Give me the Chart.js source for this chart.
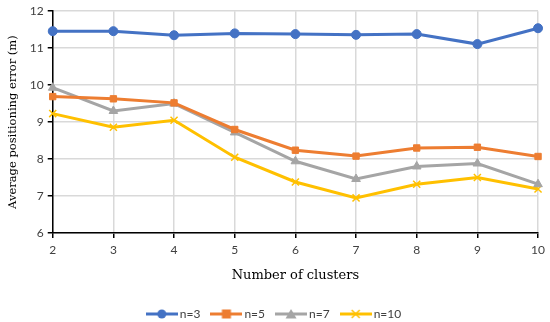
<!DOCTYPE html>
<html>
<head>
<meta charset="utf-8">
<script src="https://cdn.jsdelivr.net/npm/chart.js@4"></script>
<style>
  html, body { margin: 0; padding: 0; background: #fff; }
  #wrap { width: 550px; height: 322px; }
</style>
</head>
<body>
<div id="wrap"><canvas id="chart" width="550" height="322"></canvas></div>
<script>
const clusters = ["2", "3", "4", "5", "6", "7", "8", "9", "10"];
const n3 = [11.46, 11.46, 11.35, 11.40, 11.38, 11.36, 11.38, 11.11, 11.54];
const n5 = [9.69, 9.63, 9.52, 8.80, 8.24, 8.08, 8.30, 8.32, 8.07];
const n7 = [9.93, 9.30, 9.50, 8.72, 7.94, 7.46, 7.80, 7.88, 7.32];
const n10 = [9.23, 8.86, 9.05, 8.05, 7.38, 6.95, 7.32, 7.50, 7.19];
const yTicks = [6, 7, 8, 9, 10, 11, 12];

const COLORS = {
  n3: "#4472C4",
  n5: "#ED7D31",
  n7: "#A5A5A5",
  n10: "#FFC000",
  grid: "#d9d9d9",
  text: "#404040"
};

// legend swatch: short line with the marker in the middle
function swatch(color, style) {
  const c = document.createElement("canvas");
  c.width = 32; c.height = 12;
  const g = c.getContext("2d");
  g.strokeStyle = color; g.fillStyle = color; g.lineWidth = 3;
  g.beginPath(); g.moveTo(0, 6); g.lineTo(32, 6); g.stroke();
  g.beginPath();
  if (style === "circle") { g.arc(16, 6, 4.5, 0, Math.PI * 2); g.fill(); }
  else if (style === "rect") { g.fillRect(11.5, 1.5, 9, 9); }
  else if (style === "triangle") { g.moveTo(16, 1); g.lineTo(21.5, 10.5); g.lineTo(10.5, 10.5); g.closePath(); g.fill(); }
  else { g.lineWidth = 1.5; g.moveTo(12, 2); g.lineTo(20, 10); g.moveTo(20, 2); g.lineTo(12, 10); g.stroke(); }
  return c;
}

function series(label, data, color, style, radius) {
  return {
    label, data,
    borderColor: color,
    backgroundColor: color,
    pointBackgroundColor: color,
    pointBorderColor: color,
    borderWidth: 3,
    pointStyle: style,
    pointRadius: radius,
    pointBorderWidth: style === "crossRot" ? 1.5 : 1,
    tension: 0,
    legendSwatch: swatch(color, style)
  };
}

new Chart(document.getElementById("chart"), {
  type: "line",
  data: {
    labels: clusters,
    datasets: [
      series("n=3", n3, COLORS.n3, "circle", 4.5),
      series("n=5", n5, COLORS.n5, "rect", 4.5),
      series("n=7", n7, COLORS.n7, "triangle", 5),
      series("n=10", n10, COLORS.n10, "crossRot", 5)
    ]
  },
  options: {
    responsive: false,
    animation: false,
    layout: { padding: { left: 6, right: 5, top: 2, bottom: -8 } },
    plugins: {
      tooltip: { enabled: false },
      legend: {
        position: "bottom",
        labels: {
          color: COLORS.text,
          font: { family: "Lato", size: 12 },
          usePointStyle: true,
          pointStyleWidth: 24,
          padding: 14,
          generateLabels: (chart) => chart.data.datasets.map((ds, i) => ({
            text: ds.label,
            fontColor: COLORS.text,
            pointStyle: ds.legendSwatch,
            datasetIndex: i,
            hidden: false
          }))
        }
      }
    },
    scales: {
      x: {
        offset: false,
        border: { color: "#000", width: 1.5 },
        grid: { color: COLORS.grid, tickColor: "#000", tickLength: 5, lineWidth: 1.5 },
        ticks: { color: COLORS.text, font: { family: "Lato", size: 12 }, padding: 5, maxRotation: 0 },
        title: {
          display: true,
          text: "Number of clusters",
          color: "#000",
          font: { family: "DejaVu Serif", size: 13 },
          padding: { top: 5, bottom: 11 }
        }
      },
      y: {
        min: 6,
        max: 12,
        afterBuildTicks: (axis) => { axis.ticks = yTicks.map(v => ({ value: v })); },
        border: { color: "#000", width: 1.5 },
        grid: { color: COLORS.grid, tickColor: "#000", tickLength: 5, lineWidth: 1.5 },
        ticks: { color: COLORS.text, font: { family: "Lato", size: 12 }, padding: 4 },
        title: {
          display: true,
          text: "Average positioning error (m)",
          color: "#000",
          font: { family: "DejaVu Serif", size: 11.5 },
          padding: { top: 0, bottom: 6 }
        }
      }
    }
  }
});
</script>
</body>
</html>
